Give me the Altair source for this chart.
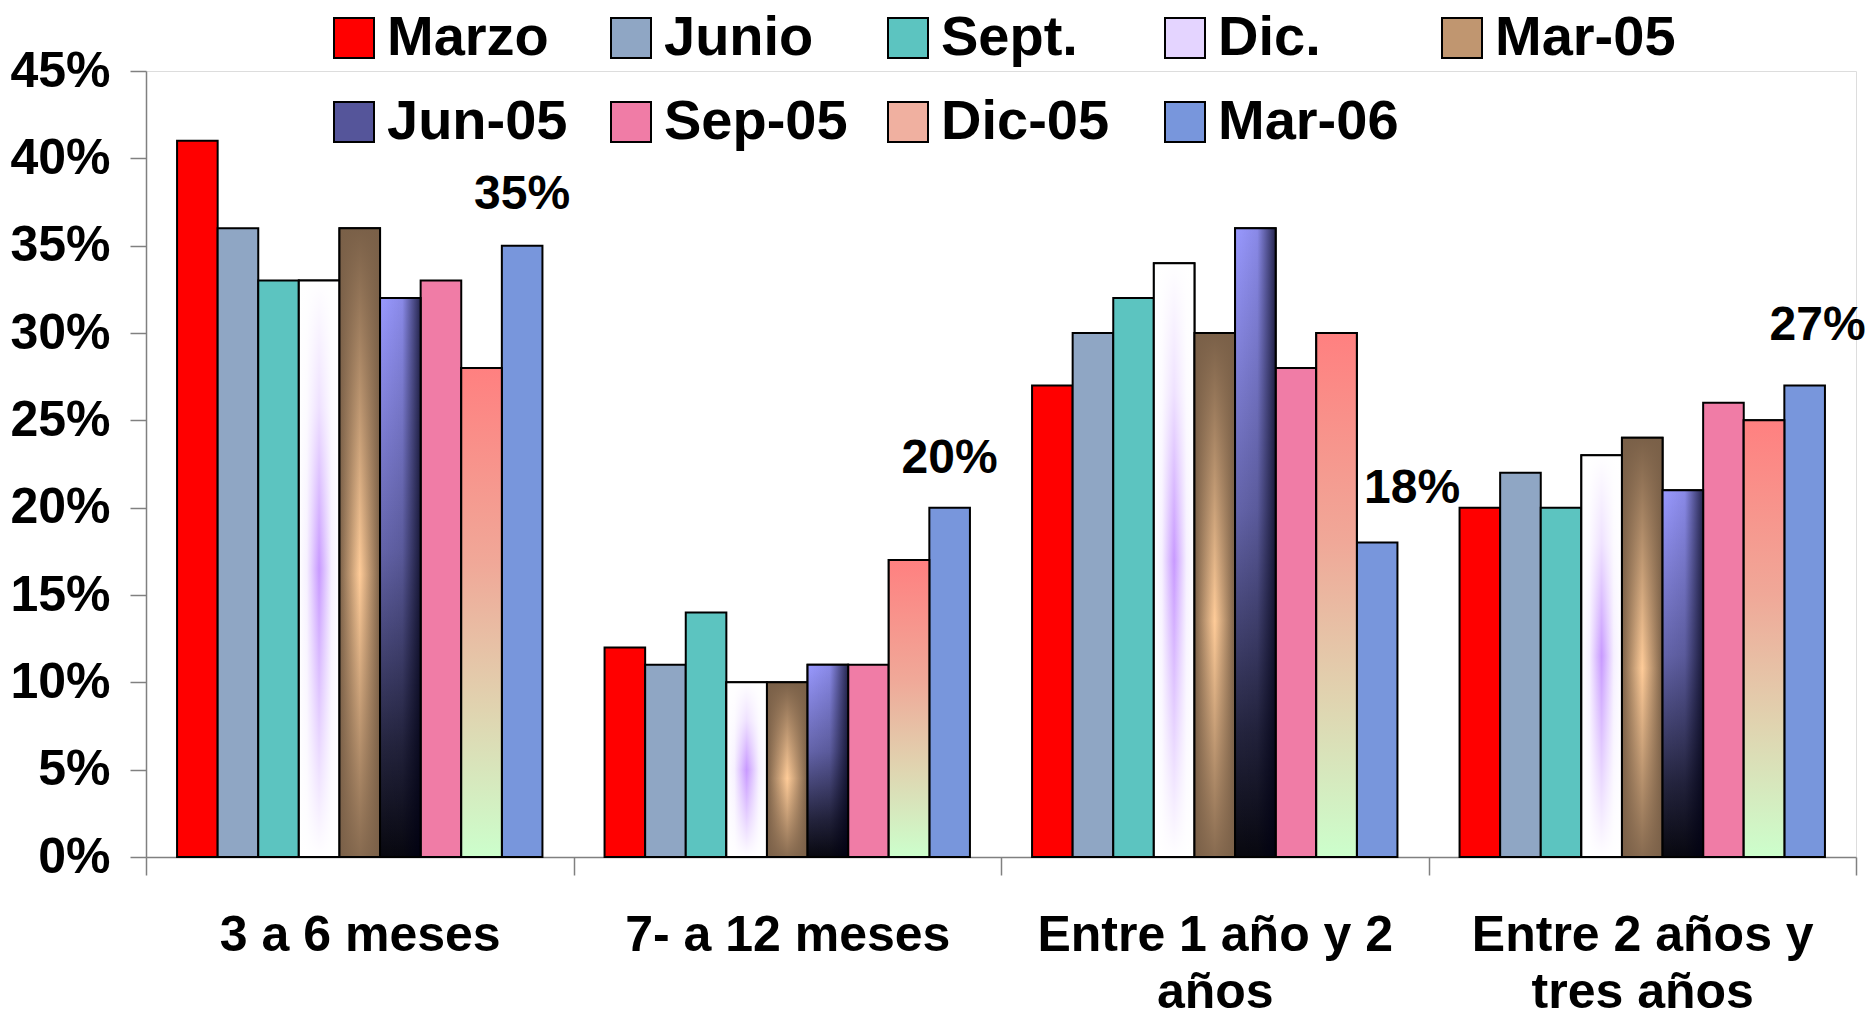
import altair as alt
import pandas as pd

categories = ["3 a 6 meses", "7- a 12 meses", "Entre 1 año y 2 años", "Entre 2 años y tres años"]
series = ["Marzo", "Junio", "Sept.", "Dic.", "Mar-05", "Jun-05", "Sep-05", "Dic-05", "Mar-06"]
vals_3a6 = [41, 36, 33, 33, 36, 32, 33, 28, 35]
vals_7a12 = [12, 11, 14, 10, 10, 11, 11, 17, 20]
vals_1a2 = [27, 30, 32, 34, 30, 36, 28, 30, 18]
vals_2a3 = [20, 22, 20, 23, 24, 21, 26, 25, 27]
y_ticks = [0, 5, 10, 15, 20, 25, 30, 35, 40, 45]
labelled_series = "Mar-06"

rows = []
for cat, vals in zip(categories, [vals_3a6, vals_7a12, vals_1a2, vals_2a3]):
    for s, v in zip(series, vals):
        rows.append({"cat": cat, "series": s, "value": v / 100})
df = pd.DataFrame(rows)

FONT = "Liberation Sans"
legend_colors = ["#ff0000", "#8fa6c4", "#5cc4c0", "#e4d4ff", "#c09670",
                 "#55559a", "#f07ca6", "#f0b0a0", "#7896dc"]
SW = 2

x_enc = alt.X("cat:N", sort=categories, scale=alt.Scale(paddingInner=0, paddingOuter=0),
              axis=alt.Axis(title=None, labelAngle=0, tickBand="extent", tickSize=18,
                            labelPadding=35, labelFontSize=50, labelFont=FONT,
                            labelFontWeight="bold", labelColor="black", labelLineHeight=57,
                            labelLimit=600, labelOverlap=False,
                            domainColor="#808080", tickColor="#808080",
                            domainWidth=1.5, tickWidth=1.5,
                            labelExpr="datum.value == 'Entre 1 año y 2 años' ? ['Entre 1 año y 2', 'años'] : datum.value == 'Entre 2 años y tres años' ? ['Entre 2 años y', 'tres años'] : datum.value"))
xo_enc = alt.XOffset("series:N", scale=alt.Scale(domain=series, paddingOuter=0.765, paddingInner=0))
y_enc = alt.Y("value:Q", scale=alt.Scale(domain=[0, 0.45], nice=False),
              axis=alt.Axis(title=None, values=[t / 100 for t in y_ticks], format=".0%",
                            tickSize=16, labelPadding=20, labelFontSize=50, labelFont=FONT,
                            labelFontWeight="bold", labelColor="black", grid=False,
                            domainColor="#808080", tickColor="#808080",
                            domainWidth=1.5, tickWidth=1.5))

base = alt.Chart(df)

bars = base.mark_bar(stroke="black", strokeWidth=SW).encode(
    x=x_enc, xOffset=xo_enc, y=y_enc,
    color=alt.Color("series:N", sort=series,
                    scale=alt.Scale(domain=series, range=legend_colors),
                    legend=alt.Legend(title=None, orient="none", legendX=180, legendY=-61,
                                      direction="horizontal", columns=5, gridAlign="all",
                                      symbolType="square", symbolSize=1600,
                                      symbolStrokeColor="black", symbolStrokeWidth=2,
                                      labelFontSize=56, labelFont=FONT, labelFontWeight="bold",
                                      labelColor="black", labelOffset=5, labelLimit=400,
                                      columnPadding=32, rowPadding=28, padding=0)),
)


def grad(stops, vertical):
    return alt.LinearGradient(
        gradient="linear",
        stops=[alt.GradientStop(color=c, offset=o) for o, c in stops],
        x1=0, y1=0, x2=0 if vertical else 1, y2=1 if vertical else 0,
    )


def overlay(name, fill, stroke):
    kw = dict(fill=fill)
    if stroke:
        kw.update(stroke="black", strokeWidth=SW)
    else:
        kw.update(strokeWidth=0)
    return base.transform_filter(alt.datum.series == name).mark_bar(**kw).encode(
        x=x_enc, xOffset=xo_enc, y=y_enc)


layers = [bars]
# Dic.: violet glow
layers.append(overlay("Dic.", grad([(0, "#ffffff"), (0.2, "#f6f0ff"), (0.5, "#c899ff"),
                                    (0.8, "#f6f0ff"), (1, "#ffffff")], False), False))
layers.append(overlay("Dic.", grad([(0, "rgba(255,255,255,1)"), (0.22, "rgba(255,255,255,0.7)"),
                                    (0.5, "rgba(255,255,255,0)"), (0.8, "rgba(255,255,255,0.6)"),
                                    (1, "rgba(255,255,255,1)")], True), True))
# Mar-05: bronze
layers.append(overlay("Mar-05", grad([(0, "#7a6048"), (0.5, "#ffcc99"), (1, "#7a6048")], False), False))
layers.append(overlay("Mar-05", grad([(0, "rgba(122,96,72,1)"), (0.55, "rgba(122,96,72,0)"),
                                      (1, "rgba(122,96,72,0.9)")], True), True))
# Jun-05: blue to black
layers.append(overlay("Jun-05", grad([(0, "#9999ff"), (0.45, "#6464aa"), (0.8, "#25253f"),
                                      (1, "#08080f")], True), False))
layers.append(overlay("Jun-05", grad([(0, "rgba(0,0,20,0)"), (0.55, "rgba(0,0,20,0.1)"),
                                      (1, "rgba(0,0,20,0.75)")], False), True))
# Dic-05: salmon to pale green
layers.append(overlay("Dic-05", grad([(0, "#ff8080"), (0.4, "#f0a898"), (0.7, "#e0d4b0"),
                                      (1, "#ccffcc")], True), True))

label_offsets = {
    "3 a 6 meses": (0, -37),
    "7- a 12 meses": (0, -35),
    "Entre 1 año y 2 años": (35, -40),
    "Entre 2 años y tres años": (13, -45),
}
for cat, (dx, dy) in label_offsets.items():
    layers.append(
        base.transform_filter((alt.datum.cat == cat) & (alt.datum.series == labelled_series))
        .mark_text(dx=dx, dy=dy, fontSize=48, font=FONT, fontWeight="bold", color="black",
                   baseline="alphabetic", align="center")
        .encode(x=x_enc, xOffset=xo_enc, y=y_enc, text=alt.Text("value:Q", format=".0%"))
    )

chart = alt.layer(*layers).properties(
    width=1710, height=786,
    autosize=alt.AutoSizeParams(type="none"),
    padding={"left": 138, "top": 63, "right": 9, "bottom": 159},
).configure_view(stroke=None).configure(background="white")

chart.save("out.html", embed_options={"renderer": "svg", "actions": False})
